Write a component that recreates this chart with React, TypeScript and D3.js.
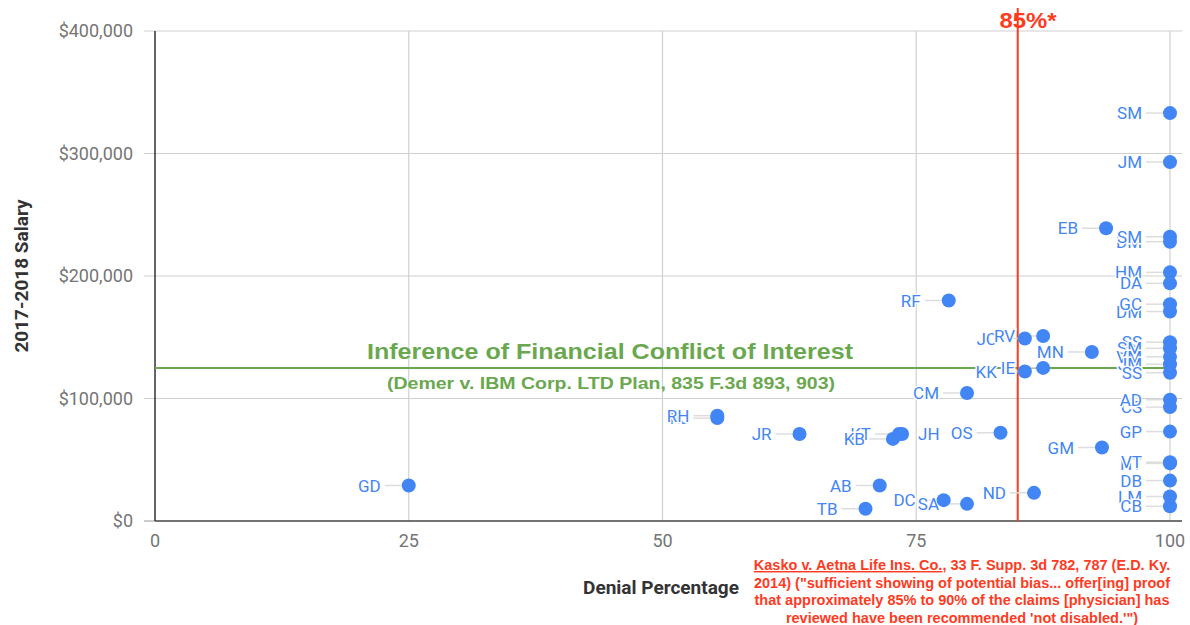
import React from "react";
import * as d3 from "d3";

const names = ["SM","JM","EB","DM","SM","HM","DA","DM","GC","RF","JC","RV","MN","KK","IE","SS","SM","VM","JM","SS","CS","AD","CM","RJ","RH","JR","KT","KB","JH","OS","GM","GP","NT","VT","DB","LM","CB","GD","AB","TB","DC","SA","ND"];
const denial = [100,100,93.7,100,100,100,100,100,100,78.2,85.7,87.5,92.3,85.7,87.5,100,100,100,100,100,100,100,80,55.4,55.4,63.5,73.3,72.7,73.6,83.3,93.3,100,100,100,100,100,100,25,71.4,70,77.7,80,86.6];
const salary = [333000,293000,239000,228000,232000,203000,194000,171000,177000,180000,149000,151000,138000,122000,125000,146000,141000,134000,128000,121000,93000,99000,104500,84000,86000,71000,71000,67000,71000,72000,60000,73000,47000,48000,33000,20000,12000,29000,29000,10000,17000,14000,23000];
const rightLabeled = ["JH"];

const xTicks = [0, 25, 50, 75, 100];
const yTicks = [0, 100000, 200000, 300000, 400000];
const thresholdX = 85;
const thresholdY = 125000;
const citation = [
  "Kasko v. Aetna Life Ins. Co., 33 F. Supp. 3d 782, 787 (E.D. Ky.",
  "2014) (\"sufficient showing of potential bias... offer[ing] proof",
  "that approximately 85% to 90% of the claims [physician] has",
  "reviewed have been recommended 'not disabled.'\")",
];

export default function App() {
  const x = d3.scaleLinear().domain([0, 100]).range([155, 1170]);
  const y = d3.scaleLinear().domain([0, 400000]).range([521, 31]);
  const fmt = (v: number) => "$" + d3.format(",")(v);
  const blue = "#4285f4";
  const labelFont = "Roboto, Arial, sans-serif";
  const boldFont = "'Liberation Sans', Arial, sans-serif";
  const red = "#ff3b1f";
  const green = "#6aa84f";
  const pts = names.map((n, i) => ({ n, x: denial[i], y: salary[i] }));
  return (
    <svg width={1190} height={625} style={{ position: "absolute", left: 0, top: 0, background: "#fff" }}>
      <rect width={1190} height={625} fill="#fff" />
      {xTicks.filter((t) => t > 0).map((t) => (
        <line key={"gx" + t} x1={x(t)} x2={x(t)} y1={y(400000)} y2={y(0)} stroke="#d0d0d0" strokeWidth={1.2} />
      ))}
      {yTicks.filter((t) => t > 0).map((t) => (
        <line key={"gy" + t} x1={x(0) - 11} x2={x(100) + 12} y1={y(t)} y2={y(t)} stroke="#d0d0d0" strokeWidth={1.2} />
      ))}
      <line x1={x(0) - 11} x2={x(0)} y1={y(0)} y2={y(0)} stroke="#999" />
      <line x1={x(0)} x2={x(0)} y1={y(400000)} y2={y(0)} stroke="#333" strokeWidth={1.5} />
      <line x1={x(0)} x2={x(100) + 12} y1={y(0)} y2={y(0)} stroke="#444" strokeWidth={1.5} />
      {yTicks.map((t) => (
        <text key={"ty" + t} x={133} y={y(t)} dy="0.35em" textAnchor="end" fontFamily={labelFont} fontSize={18} fill="#757575">
          {fmt(t)}
        </text>
      ))}
      {xTicks.map((t) => (
        <text key={"tx" + t} x={x(t)} y={547} textAnchor="middle" fontFamily={labelFont} fontSize={18} fill="#757575">
          {t}
        </text>
      ))}
      <text transform={`translate(28,${y(200000)}) rotate(-90)`} textAnchor="middle" fontFamily={labelFont} fontWeight="bold" fontSize={19} fill="#333">
        2017-2018 Salary
      </text>
      <text x={661} y={594} textAnchor="middle" fontFamily={labelFont} fontWeight="bold" fontSize={19} fill="#333">
        Denial Percentage
      </text>
      {/* threshold lines */}
      <line x1={x(0)} x2={x(100)} y1={y(thresholdY)} y2={y(thresholdY)} stroke={green} strokeWidth={2} />
      <line x1={x(thresholdX)} x2={x(thresholdX)} y1={8} y2={y(0)} stroke={red} strokeWidth={2} />
      <text x={1028} y={28} textAnchor="middle" fontFamily={boldFont} fontWeight="bold" fontSize={22} fill={red} textLength={57} lengthAdjust="spacingAndGlyphs">
        85%*
      </text>
      <text x={610} y={359} textAnchor="middle" fontFamily={boldFont} fontWeight="bold" fontSize={22} fill={green} textLength={486} lengthAdjust="spacingAndGlyphs">
        Inference of Financial Conflict of Interest
      </text>
      <text x={611} y={389} textAnchor="middle" fontFamily={boldFont} fontWeight="bold" fontSize={16} fill={green} textLength={448} lengthAdjust="spacingAndGlyphs">
        (Demer v. IBM Corp. LTD Plan, 835 F.3d 893, 903)
      </text>
      {/* point labels */}
      {pts.map((p, i) => {
        const cx = x(p.x);
        const cy = y(p.y);
        const right = rightLabeled.includes(p.n);
        return (
          <g key={"p" + i}>
            {!right && <line x1={cx - 24} x2={cx - 7} y1={cy} y2={cy} stroke="#ddd" strokeWidth={1.5} />}
            <text
              x={right ? cx + 16 : cx - 28}
              y={cy}
              dy="0.36em"
              textAnchor={right ? "start" : "end"}
              fontFamily={labelFont}
              fontSize={17}
              fill={blue}
              stroke="#fff"
              strokeWidth={3}
              style={{ paintOrder: "stroke" }}
            >
              {p.n}
            </text>
          </g>
        );
      })}
      {pts.map((p, i) => (
        <circle key={"c" + i} cx={x(p.x)} cy={y(p.y)} r={7} fill={blue} />
      ))}
      {/* citation */}
      {citation.map((line, i) => (
        <text key={"cit" + i} x={962} y={570 + i * 17.5} textAnchor="middle" fontFamily={boldFont} fontWeight="bold" fontSize={14.5} fill={red}>
          {i === 0 ? (
            <>
              <tspan textDecoration="underline">Kasko v. Aetna Life Ins. Co.</tspan>
              {line.slice("Kasko v. Aetna Life Ins. Co.".length)}
            </>
          ) : (
            line
          )}
        </text>
      ))}
    </svg>
  );
}
